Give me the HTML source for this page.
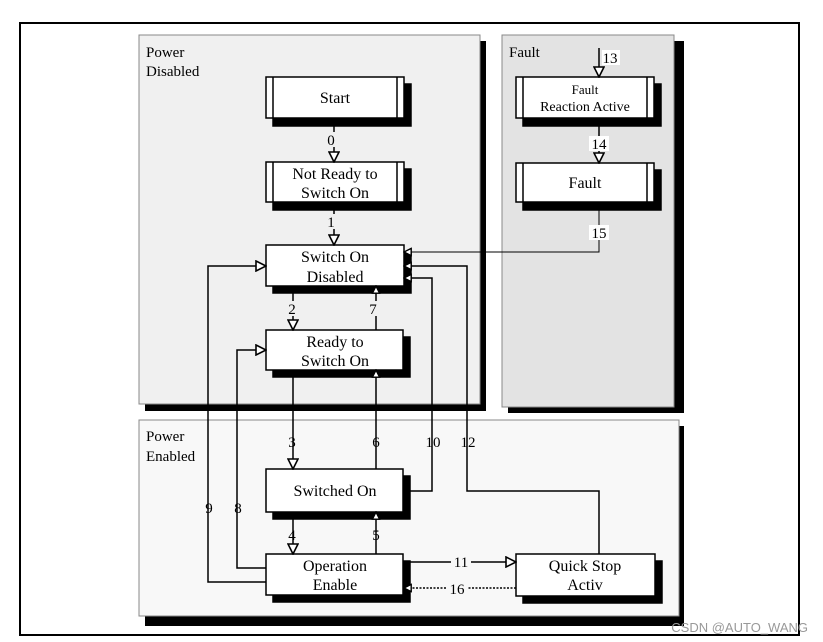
<!DOCTYPE html>
<html><head><meta charset="utf-8"><style>
html,body{margin:0;padding:0;background:#fff;width:823px;height:642px;overflow:hidden}
svg{display:block}
text{font-family:"Liberation Serif",serif;fill:#000}
</style></head><body>
<svg width="823" height="642" viewBox="0 0 823 642" xmlns="http://www.w3.org/2000/svg">
<defs>
<marker id="ah" viewBox="0 0 12 12" refX="11" refY="6" markerWidth="12" markerHeight="12" orient="auto" markerUnits="userSpaceOnUse">
<path d="M1,1 L11,6 L1,11 Z" fill="#fff" stroke="#000" stroke-width="1.6"/></marker>
<marker id="as" viewBox="0 0 10 10" refX="9" refY="5" markerWidth="9" markerHeight="9" orient="auto" markerUnits="userSpaceOnUse">
<path d="M1,1 L9,5 L1,9 Z" fill="#fff" stroke="#000" stroke-width="1.6"/></marker>
</defs>
<rect x="20" y="23" width="779" height="612" fill="#fff" stroke="#000" stroke-width="2"/>
<rect x="145" y="41" width="341" height="370" fill="#000"/>
<rect x="139" y="35" width="341" height="369" fill="#f0f0f0" stroke="#888" stroke-width="1"/>
<rect x="508" y="41" width="176" height="372" fill="#000"/>
<rect x="502" y="35" width="172" height="372" fill="#e3e3e3" stroke="#888" stroke-width="1"/>
<rect x="145" y="426" width="539" height="200" fill="#000"/>
<rect x="139" y="420" width="540" height="196" fill="#f8f8f8" stroke="#888" stroke-width="1"/>
<text x="146" y="57" font-size="15">Power</text>
<text x="146" y="76" font-size="15">Disabled</text>
<text x="509" y="57" font-size="15">Fault</text>
<text x="146" y="441" font-size="15">Power</text>
<text x="146" y="461" font-size="15">Enabled</text>

<g stroke="#000" stroke-width="1.5">
<rect x="273" y="84" width="138" height="42" fill="#000"/>
<rect x="266" y="77" width="138" height="41" fill="#fff"/>
<line x1="273" y1="77" x2="273" y2="118"/><line x1="397" y1="77" x2="397" y2="118"/>
<rect x="273" y="169" width="138" height="41" fill="#000"/>
<rect x="266" y="162" width="138" height="40" fill="#fff"/>
<line x1="273" y1="162" x2="273" y2="202"/><line x1="397" y1="162" x2="397" y2="202"/>
<rect x="273" y="252" width="138" height="41" fill="#000"/>
<rect x="266" y="245" width="138" height="41" fill="#fff"/>
<rect x="273" y="337" width="137" height="40" fill="#000"/>
<rect x="266" y="330" width="137" height="40" fill="#fff"/>
<rect x="273" y="476" width="137" height="43" fill="#000"/>
<rect x="266" y="469" width="137" height="43" fill="#fff"/>
<rect x="273" y="561" width="137" height="41" fill="#000"/>
<rect x="266" y="554" width="137" height="41" fill="#fff"/>
<rect x="523" y="561" width="139" height="42" fill="#000"/>
<rect x="516" y="554" width="139" height="42" fill="#fff"/>
<rect x="523" y="84" width="138" height="42" fill="#000"/>
<rect x="516" y="77" width="138" height="41" fill="#fff"/>
<line x1="523" y1="77" x2="523" y2="118"/><line x1="647" y1="77" x2="647" y2="118"/>
<rect x="523" y="170" width="138" height="40" fill="#000"/>
<rect x="516" y="163" width="138" height="39" fill="#fff"/>
<line x1="523" y1="163" x2="523" y2="202"/><line x1="647" y1="163" x2="647" y2="202"/>
</g>

<g stroke="#000" stroke-width="1.5" fill="none">
<line x1="334" y1="118" x2="334" y2="162" marker-end="url(#ah)"/>
<line x1="334" y1="202" x2="334" y2="245" marker-end="url(#ah)"/>
<line x1="293" y1="293" x2="293" y2="330" marker-end="url(#ah)"/>
<line x1="376" y1="330" x2="376" y2="286" marker-end="url(#as)"/>
<line x1="293" y1="377" x2="293" y2="469" marker-end="url(#ah)"/>
<line x1="376" y1="469" x2="376" y2="370" marker-end="url(#as)"/>
<line x1="293" y1="519" x2="293" y2="554" marker-end="url(#ah)"/>
<line x1="376" y1="554" x2="376" y2="512" marker-end="url(#as)"/>
<polyline points="410,491 432,491 432,278 404,278" marker-end="url(#as)"/>
<polyline points="599,554 599,491 467,491 467,266 404,266" marker-end="url(#as)"/>
<polyline points="266,582 208,582 208,266 266,266" marker-end="url(#ah)"/>
<polyline points="266,568 237,568 237,350 266,350" marker-end="url(#ah)"/>
<line x1="410" y1="562" x2="516" y2="562" marker-end="url(#ah)"/>
<line x1="516" y1="588" x2="404" y2="588" stroke-dasharray="2,1.5" marker-end="url(#as)"/>
<line x1="599" y1="48" x2="599" y2="77" marker-end="url(#ah)"/>
<line x1="599" y1="126" x2="599" y2="163" marker-end="url(#ah)"/>
<polyline points="599,210 599,252 404,252" stroke-width="1" marker-end="url(#as)"/>
</g>

<g font-size="16" text-anchor="middle">
<text x="335" y="103">Start</text>
<text x="335" y="179">Not Ready to</text>
<text x="335" y="198">Switch On</text>
<text x="335" y="262">Switch On</text>
<text x="335" y="282">Disabled</text>
<text x="335" y="347">Ready to</text>
<text x="335" y="366">Switch On</text>
<text x="335" y="496">Switched On</text>
<text x="335" y="571">Operation</text>
<text x="335" y="590">Enable</text>
<text x="585" y="571">Quick Stop</text>
<text x="585" y="590">Activ</text>
<text x="585" y="188">Fault</text>
<text x="585" y="94" font-size="13">Fault</text>
<text x="585" y="111" font-size="14">Reaction Active</text>
</g>

<g font-size="15" text-anchor="middle">
<rect x="326" y="132" width="10" height="15" fill="#f0f0f0"/><text x="331" y="145">0</text>
<rect x="326" y="214" width="10" height="15" fill="#f0f0f0"/><text x="331" y="227">1</text>
<rect x="287" y="301" width="10" height="15" fill="#f0f0f0"/><text x="292" y="314">2</text>
<rect x="368" y="301" width="10" height="15" fill="#f0f0f0"/><text x="373" y="314">7</text>
<text x="292" y="447">3</text>
<text x="376" y="447">6</text>
<text x="433" y="447">10</text>
<text x="468" y="447">12</text>
<text x="209" y="513">9</text>
<text x="238" y="513">8</text>
<text x="292" y="540">4</text>
<text x="376" y="540">5</text>
<rect x="451" y="554" width="20" height="15" fill="#f8f8f8"/><text x="461" y="567">11</text>
<rect x="446" y="581" width="22" height="15" fill="#f8f8f8"/><text x="457" y="594">16</text>
<rect x="602" y="50" width="18" height="15" fill="#fff"/><text x="610" y="63">13</text>
<rect x="589" y="136" width="20" height="15" fill="#fff"/><text x="599" y="149">14</text>
<rect x="589" y="225" width="20" height="15" fill="#fff"/><text x="599" y="238">15</text>
</g>

<text x="808" y="632" font-size="13" text-anchor="end" style="font-family:'Liberation Sans',sans-serif;fill:#999">CSDN @AUTO_WANG</text>
</svg>
</body></html>
